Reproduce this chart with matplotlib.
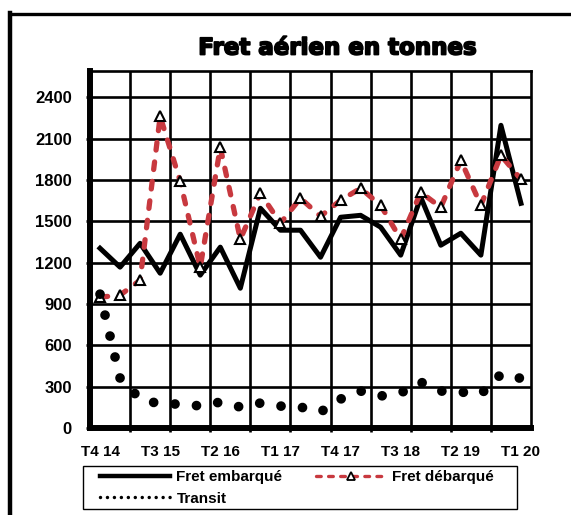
import matplotlib
matplotlib.use('Agg')
import matplotlib.pyplot as plt
from matplotlib.lines import Line2D
from matplotlib.patches import Rectangle
import matplotlib.patheffects as pe
import numpy as np

plt.rcParams['lines.scale_dashes'] = False

quarters = ['T4 14', 'T1 15', 'T2 15', 'T3 15', 'T4 15', 'T1 16', 'T2 16', 'T3 16',
            'T4 16', 'T1 17', 'T2 17', 'T3 17', 'T4 17', 'T1 18', 'T2 18', 'T3 18',
            'T4 18', 'T1 19', 'T2 19', 'T3 19', 'T4 19', 'T1 20']
embarque = [1304, 1167, 1340, 1123, 1406, 1109, 1312, 1014, 1594, 1435, 1435,
            1239, 1529, 1543, 1457, 1254, 1674, 1326, 1413, 1254, 2196, 1630]
debarque = [949, 964, 1072, 2261, 1790, 1167, 2036, 1370, 1703, 1486, 1667,
            1536, 1652, 1739, 1616, 1370, 1710, 1601, 1942, 1616, 1978, 1804]
transit = [971, 362, 210, 174, 174, 160, 188, 152, 181, 159, 152,
           116, 210, 268, 232, 254, 333, 268, 261, 246, 390, 360]
y_ticks = [0, 300, 600, 900, 1200, 1500, 1800, 2100, 2400]
title = 'Fret aérien en tonnes'
labels = ['Fret embarqué', 'Fret débarqué', 'Transit']

W, H = 571, 515
fig = plt.figure(figsize=(W / 100, H / 100), dpi=100)
ax = fig.add_axes([90 / W, 87 / H, 441 / W, 357 / H])

x = np.arange(len(quarters))
ax.set_xlim(-0.5, len(quarters) - 0.5)
ax.set_ylim(0, 2590)

ax.set_yticks(y_ticks)
ax.set_xticks(x[::3])
ax.set_xticklabels(quarters[::3])
ax.set_xticks(np.arange(1.5, len(quarters) - 0.5, 2), minor=True)
ax.grid(axis='y', which='major', color='black', lw=1.9, zorder=1)
ax.grid(axis='x', which='minor', color='black', lw=1.9, zorder=1)
ax.set_axisbelow(True)

for s in ['left', 'bottom']:
    ax.spines[s].set_linewidth(4.3)
for s in ['top', 'right']:
    ax.spines[s].set_linewidth(1.9)

ax.tick_params(axis='y', which='major', length=3, width=1.9, direction='out', pad=10)
ax.tick_params(axis='x', which='major', length=0, pad=12)
ax.tick_params(axis='x', which='minor', length=3, width=1.9, direction='out')
for t in ax.get_yticklabels():
    t.set_fontfamily('Liberation Sans')
    t.set_fontweight('bold')
    t.set_fontsize(12)
for t in ax.get_xticklabels():
    t.set_fontfamily('Liberation Sans')
    t.set_fontweight('bold')
    t.set_fontsize(11)

red = '#c8393f'
ax.plot(x, embarque, color='black', lw=3.6, solid_joinstyle='round', zorder=3)
ax.plot(x, debarque, color=red, lw=3.8, dashes=(5.5, 8.6), dash_capstyle='round', zorder=4)
ax.plot(x, debarque, ls='none', marker='^', ms=7, mfc='white', mec='black', mew=1.5, zorder=5)
ax.plot(x, transit, color='black', lw=7, dashes=(0.01, 15.5), dash_capstyle='round', zorder=6)

h1 = Line2D([], [], color='black', lw=3.2)
h2 = Line2D([], [], color=red, lw=2.4, dashes=(3.4, 5.3), dash_capstyle='round',
            marker='^', ms=6, mfc='white', mec='black', mew=1.3)
h3 = Line2D([], [], color='black', lw=2.5, dashes=(0.01, 5), dash_capstyle='round')
leg = fig.legend(handles=[h1, h3, h2], labels=[labels[0], labels[2], labels[1]], ncol=2,
                 loc='upper left', bbox_to_anchor=(100 / W, 1 - 470 / H), frameon=False,
                 borderpad=0, borderaxespad=0, handlelength=4.6, handletextpad=0.4,
                 columnspacing=2.2, labelspacing=0.5,
                 prop={'family': 'Liberation Sans', 'weight': 'bold', 'size': 11})
for t in leg.get_texts():
    t.set_fontweight('bold')
fig.add_artist(Rectangle((83 / W, 1 - 509 / H), 434 / W, 43 / H, transform=fig.transFigure,
                         fill=False, ec='black', lw=1))

fig.add_artist(Line2D([10 / W, 10 / W], [0, 1 - 12.5 / H], transform=fig.transFigure,
                      color='black', lw=3.2))
fig.add_artist(Line2D([10 / W, 1], [1 - 14 / H, 1 - 14 / H], transform=fig.transFigure,
                      color='black', lw=2.4))

fig.text(337 / W, 1 - 48 / H, title, ha='center', va='center', family='DejaVu Sans',
         weight='bold', size=16.5,
         path_effects=[pe.withStroke(linewidth=1.3, foreground='black')])

fig.savefig('out.png', dpi=100)
